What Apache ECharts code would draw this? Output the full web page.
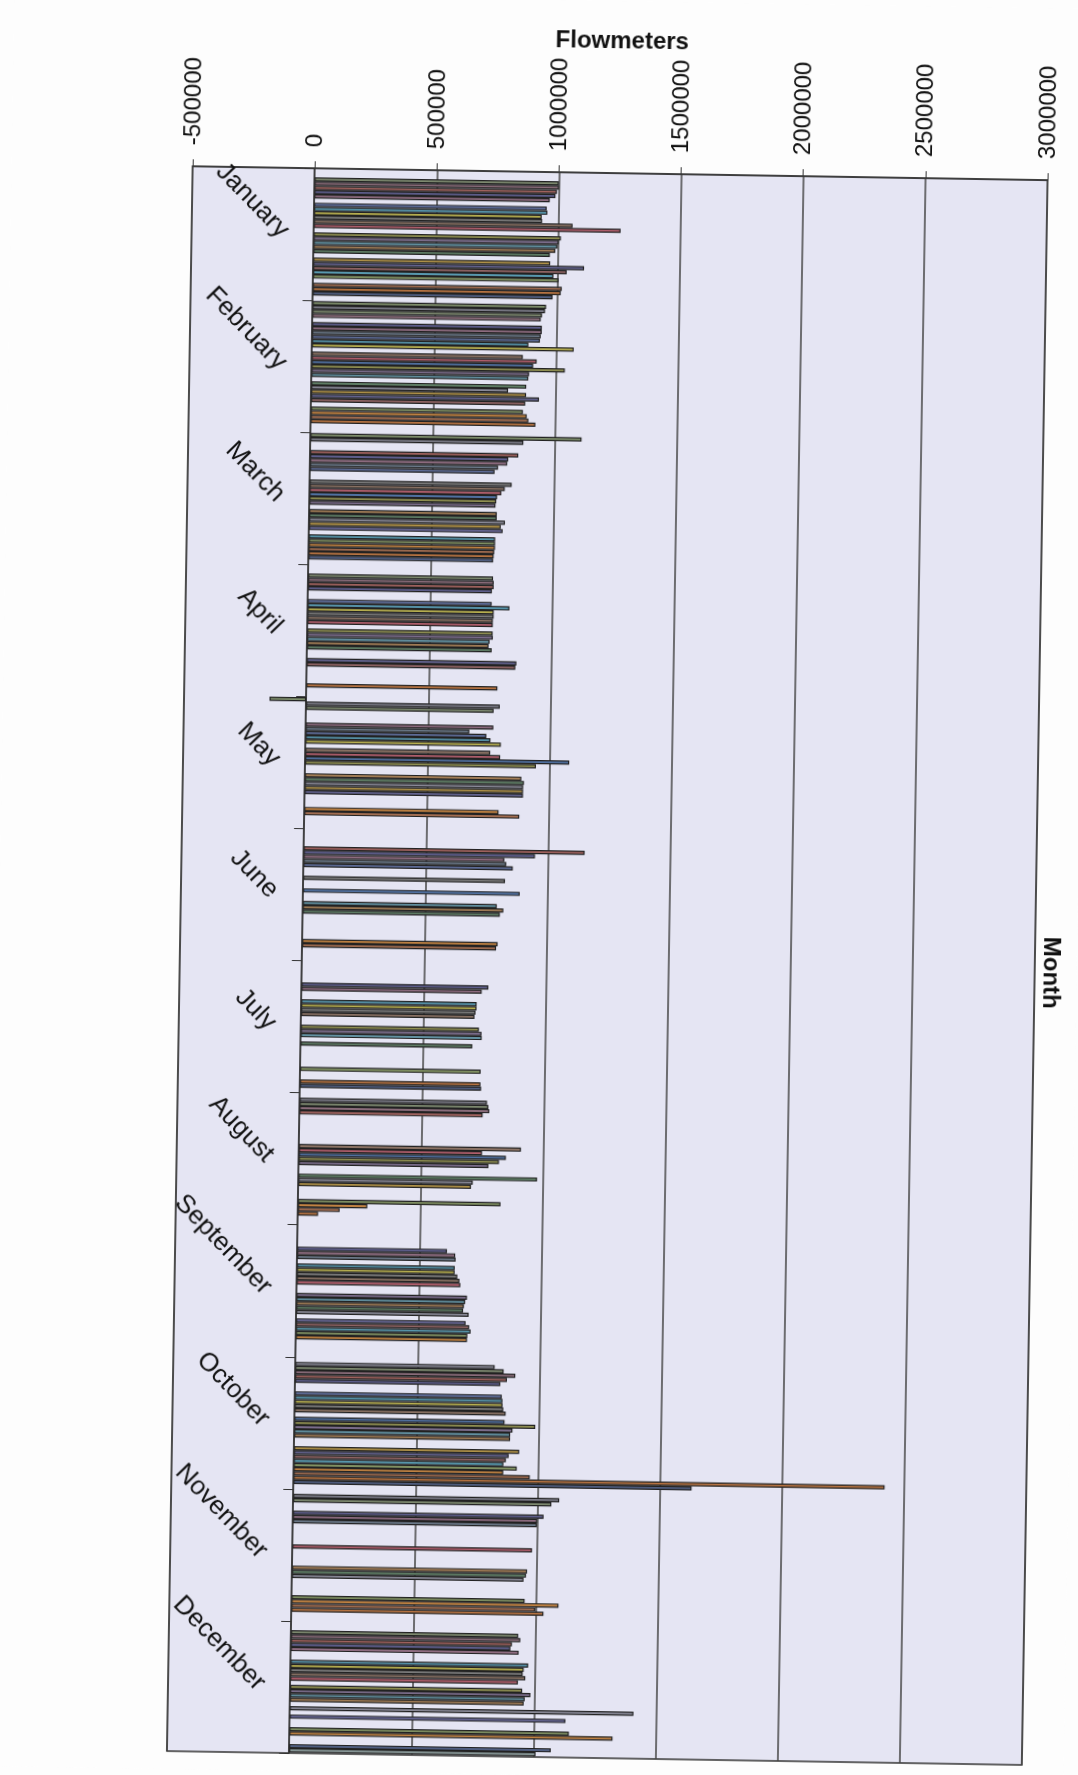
<!DOCTYPE html>
<html>
<head>
<meta charset="utf-8">
<script src="https://cdn.jsdelivr.net/npm/echarts@6/dist/echarts.min.js"></script>
<style>
html,body{margin:0;padding:0;background:#fdfdfd;overflow:hidden;}
#chart{width:1078px;height:1775px;transform:rotate(0.93deg);transform-origin:539px 887px;}
</style>
</head>
<body>
<div id="chart"></div>
<script>
const _ = null;
const months = ['January','February','March','April','May','June','July','August','September','October','November','December'];
const xTicks = [-500000, 0, 500000, 1000000, 1500000, 2000000, 2500000, 3000000];

// one array per month, one entry per day (1..31)
const jan = [_,_,1000000,1001000,993000,987000,964000,_,952000,955000,932000,934000,1059000,1256000,_,1012000,1003000,998000,990000,968000,_,970000,1109000,1038000,984000,1005000,_,1019000,1015000,982000,_];
const feb = [956000,952000,940000,935000,_,940000,940000,936000,933000,886000,1072000,_,864000,921000,907000,1037000,891000,888000,_,880000,806000,880000,933000,877000,_,868000,884000,891000,920000,_,_];
const mar = [1110000,872000,_,_,852000,811000,807000,770000,756000,_,_,827000,799000,785000,768000,765000,762000,_,768000,768000,802000,785000,793000,_,763000,763000,763000,760000,758000,756000,_];
const apr = [_,_,757000,760000,760000,753000,_,_,753000,826000,762000,762000,759000,759000,_,759000,760000,747000,743000,756000,_,_,858000,854000,_,_,_,_,782000,_,_];
const may = [-150000,793000,768000,_,_,_,768000,670000,740000,757000,800000,_,757000,798000,1081000,945000,_,_,886000,897000,894000,894000,894000,_,_,_,795000,880000,_,_,_];
const jun = [_,_,_,_,1150000,947000,822000,830000,857000,_,_,826000,_,_,887000,_,_,794000,821000,807000,_,_,_,_,_,_,800000,794000,_,_,_];
const jul = [_,_,_,_,_,765000,738000,_,_,718000,718000,714000,710000,_,_,729000,740000,741000,_,703000,_,_,_,_,_,739000,_,_,739000,742000,_];
const aug = [_,767000,773000,777000,750000,_,_,_,_,_,_,_,909000,750000,848000,820000,777000,_,_,977000,714000,707000,_,_,_,829000,284000,171000,83000,_,_];
const sep = [_,_,_,_,_,613000,647000,649000,_,646000,646000,657000,666000,670000,_,_,698000,691000,686000,683000,706000,_,694000,709000,715000,702000,701000,_,_,_,_];
const oct = [_,816000,853000,901000,867000,840000,_,_,847000,850000,851000,854000,864000,_,860000,986000,893000,884000,884000,_,_,922000,879000,868000,858000,913000,858000,967000,2420000,1630000,_];
const nov = [_,1089000,1057000,_,_,1026000,1000000,999000,_,_,_,_,_,981000,_,_,_,_,962000,958000,948000,_,_,_,_,954000,1093000,998000,1032000,_,_];
const dec = [_,_,930000,939000,905000,899000,933000,_,_,973000,955000,951000,962000,932000,_,950000,984000,961000,957000,_,1407000,_,1129000,_,_,1144000,1323000,_,_,1071000,1009000];

const monthly = [jan, feb, mar, apr, may, jun, jul, aug, sep, oct, nov, dec];

const dayColours = ['#7f8f6c','#7c7c88','#7e8a70','#8a6c7a','#a0625e','#5e5e8c','#8e6c80','#6c7a8a','#5e6c98','#5590a6',
  '#b8b050','#7c7c7c','#8a7264','#b05e6c','#5070a0','#909052','#7a6c8a','#6290a0','#a07c56','#5e7c64',
  '#8a8a98','#b09248','#646490','#906464','#5898ae','#809062','#c08242','#a06c50','#b87442','#505e80','#889898'];

const series = [];
for (let d = 0; d < 31; d++) {
  series.push({
    type: 'bar',
    name: 'Day ' + (d + 1),
    yAxisIndex: 0,
    data: monthly.map(m => m[d]),
    barGap: '0%',
    barCategoryGap: '1%',
    itemStyle: { color: dayColours[d], borderColor: '#222', borderWidth: 1.2 },
    silent: true
  });
}

const chart = echarts.init(document.getElementById('chart'));
chart.setOption({
  animation: false,
  backgroundColor: '#fdfdfd',
  textStyle: { fontFamily: 'Liberation Sans, Arial, sans-serif' },
  grid: {
    left: 181, right: 42, top: 172, bottom: 18,
    show: true, backgroundColor: '#e5e5f3', borderColor: '#333', borderWidth: 1.5
  },
  xAxis: {
    type: 'value', position: 'top',
    min: xTicks[0], max: xTicks[xTicks.length - 1], interval: 500000,
    name: 'Flowmeters', nameLocation: 'middle', nameGap: 120, nameMoveOverlap: false,
    nameTextStyle: { fontSize: 24, fontWeight: 'bold', color: '#111' },
    axisLine: { show: true, onZero: false, lineStyle: { color: '#333', width: 1.5 } },
    axisTick: { show: true, length: 7, lineStyle: { color: '#333' } },
    axisLabel: { rotate: -90, margin: 21, fontSize: 24, color: '#111', formatter: v => String(v) },
    splitLine: { show: true, lineStyle: { color: '#454545', width: 1.5 } }
  },
  yAxis: [
    {
      type: 'category', inverse: true, data: months,
      axisLine: { show: true, onZero: true, lineStyle: { color: '#333', width: 1.5 } },
      axisTick: { show: true, length: 10, lineStyle: { color: '#333' } },
      axisLabel: { rotate: -45, margin: -93, fontSize: 26, color: '#111' },
      splitLine: { show: false }
    },
    {
      type: 'category', inverse: true, data: months, position: 'right',
      name: 'Month', nameLocation: 'middle', nameRotate: -90, nameGap: 4, nameMoveOverlap: false,
      nameTextStyle: { fontSize: 24, fontWeight: 'bold', color: '#111' },
      axisLine: { show: false }, axisTick: { show: false }, axisLabel: { show: false },
      splitLine: { show: false }
    }
  ],
  series: series
});
</script>
</body>
</html>
